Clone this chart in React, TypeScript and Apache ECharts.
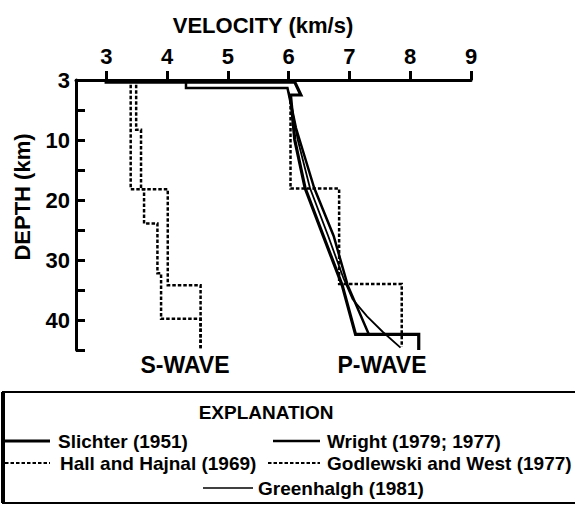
import React, { useEffect, useRef } from "react";
import * as echarts from "echarts";

const FONT = "'Liberation Sans', Arial, Helvetica, sans-serif";

// Axis ticks / labels
const velocityTicks = [3, 4, 5, 6, 7, 8, 9];
const depthLabelValues = [0, 10, 20, 30, 40];
const depthLabelTexts: Record<number, string> = { 0: "3", 10: "10", 20: "20", 30: "30", 40: "40" };

// Series (velocity km/s, depth km)
const slichter = [
  [2.97, 0.35], [6.1, 0.35], [6.2, 2.5], [6.03, 2.5], [6.1, 10], [6.27, 18],
  [6.57, 26], [6.88, 34.2], [7.1, 42.4], [8.14, 42.4], [8.14, 45],
];
const wright = [
  [4.31, 0.35], [4.31, 1.35], [5.98, 1.35], [6.12, 8], [6.42, 18],
  [6.74, 26], [6.97, 34.2], [7.32, 42.4],
];
const greenhalgh = [
  [6.0, 2], [6.15, 10], [6.35, 18], [6.65, 26], [6.9, 33], [7.05, 36.5],
  [7.29, 39.4], [7.55, 42], [7.84, 44.6],
];
const hallS = [
  [3.4, 0.8], [3.4, 18.2], [4.01, 18.2], [4.01, 34.2], [4.55, 34.2], [4.55, 44.7],
];
const hallP = [
  [6.03, 2.5], [6.03, 18.1], [6.83, 18.1], [6.83, 34.0], [7.86, 34.0], [7.86, 44.5],
];
const godlewskiS = [
  [3.49, 0.8], [3.49, 8.3], [3.57, 8.3], [3.57, 18.2], [3.62, 18.2], [3.62, 23.9],
  [3.84, 23.9], [3.84, 32.2], [3.9, 32.2], [3.9, 39.8], [4.55, 39.8], [4.55, 44.7],
];

const legendNames = [
  "Slichter (1951)",
  "Wright (1979; 1977)",
  "Hall and Hajnal (1969)",
  "Godlewski and West (1977)",
  "Greenhalgh (1981)",
];

const BLACK = "#000";
const DASH = [3.5, 2];

function lineSeries(name: string, data: number[][], width: number, dashed: boolean) {
  return {
    type: "line",
    name,
    data,
    showSymbol: false,
    symbol: "none",
    smooth: false,
    silent: true,
    lineStyle: { color: BLACK, width, type: dashed ? DASH : "solid", cap: "butt", join: "miter" },
  };
}

export default function App() {
  const ref = useRef<HTMLDivElement>(null);
  useEffect(() => {
    if (!ref.current) return;
    const chart = echarts.init(ref.current, null, { renderer: "svg" });
    const textStyle = { fill: BLACK, fontFamily: FONT, fontWeight: "bold" };
    const legendLine = (x1: number, x2: number, y: number, w: number, dashed: boolean) => ({
      type: "line",
      shape: { x1, y1: y, x2, y2: y },
      style: { stroke: BLACK, lineWidth: w, lineDash: dashed ? DASH : null },
    });
    const legendText = (x: number, y: number, text: string) => ({
      type: "text",
      x,
      y,
      style: { ...textStyle, text, fontSize: 19, textAlign: "left", textVerticalAlign: "middle" },
    });
    chart.setOption({
      animation: false,
      backgroundColor: "#fff",
      grid: { left: 76, right: 104, top: 80, bottom: 156, containLabel: false },
      xAxis: {
        type: "value",
        position: "top",
        min: 2.5,
        max: 9,
        axisLine: { show: true, onZero: false, lineStyle: { color: BLACK, width: 3 } },
        axisTick: {
          show: true,
          inside: false,
          length: 9,
          customValues: velocityTicks,
          lineStyle: { color: BLACK, width: 3 },
        },
        axisLabel: {
          customValues: velocityTicks,
          margin: 13,
          color: BLACK,
          fontSize: 22,
          fontWeight: "bold",
          fontFamily: FONT,
          formatter: (v: number) => (Number.isInteger(v) ? String(v) : ""),
        },
        splitLine: { show: false },
      },
      yAxis: {
        type: "value",
        inverse: true,
        min: 0,
        max: 45,
        interval: 5,
        axisLine: { show: true, onZero: false, lineStyle: { color: BLACK, width: 3 } },
        axisTick: { show: true, inside: true, length: 9, lineStyle: { color: BLACK, width: 3 } },
        axisLabel: {
          customValues: depthLabelValues,
          margin: 6,
          color: BLACK,
          fontSize: 22,
          fontWeight: "bold",
          fontFamily: FONT,
          formatter: (v: number) => (depthLabelTexts[v] !== undefined ? depthLabelTexts[v] : ""),
        },
        splitLine: { show: false },
      },
      series: [
        lineSeries(legendNames[0], slichter, 3.2, false),
        lineSeries(legendNames[1], wright, 2.5, false),
        lineSeries(legendNames[4], greenhalgh, 1.8, false),
        lineSeries(legendNames[2], hallS, 2.5, true),
        lineSeries(legendNames[2], hallP, 2.5, true),
        lineSeries(legendNames[3], godlewskiS, 2.5, true),
      ],
      graphic: [
        {
          type: "text",
          x: 263,
          y: 25,
          style: { ...textStyle, text: "VELOCITY (km/s)", fontSize: 22, textAlign: "center", textVerticalAlign: "middle" },
        },
        {
          type: "text",
          x: 22,
          y: 197,
          rotation: Math.PI / 2,
          style: { ...textStyle, text: "DEPTH (km)", fontSize: 22, textAlign: "center", textVerticalAlign: "middle" },
        },
        {
          type: "text",
          x: 185,
          y: 365,
          style: { ...textStyle, text: "S-WAVE", fontSize: 23, textAlign: "center", textVerticalAlign: "middle" },
        },
        {
          type: "text",
          x: 382,
          y: 365,
          style: { ...textStyle, text: "P-WAVE", fontSize: 23, textAlign: "center", textVerticalAlign: "middle" },
        },
        {
          type: "rect",
          shape: { x: 3, y: 392, width: 620, height: 111 },
          style: { fill: "none", stroke: BLACK, lineWidth: 2 },
        },
        {
          type: "line",
          shape: { x1: 3, y1: 392, x2: 3, y2: 503 },
          style: { stroke: BLACK, lineWidth: 4 },
        },
        {
          type: "text",
          x: 266,
          y: 412,
          style: { ...textStyle, text: "EXPLANATION", fontSize: 19, textAlign: "center", textVerticalAlign: "middle" },
        },
        legendLine(5, 50, 441, 3, false),
        legendText(58, 441, legendNames[0]),
        legendLine(273, 320, 441, 2.5, false),
        legendText(327, 441, legendNames[1]),
        legendLine(5, 50, 463, 2, true),
        legendText(60, 463, legendNames[2]),
        legendLine(268, 320, 463, 2, true),
        legendText(327, 463, legendNames[3]),
        legendLine(203, 253, 488, 1.5, false),
        legendText(258, 488, legendNames[4]),
      ],
    });
    return () => chart.dispose();
  }, []);
  return (
    <div
      ref={ref}
      style={{ position: "fixed", left: 0, top: 0, width: 575, height: 506, background: "#fff" }}
    />
  );
}
